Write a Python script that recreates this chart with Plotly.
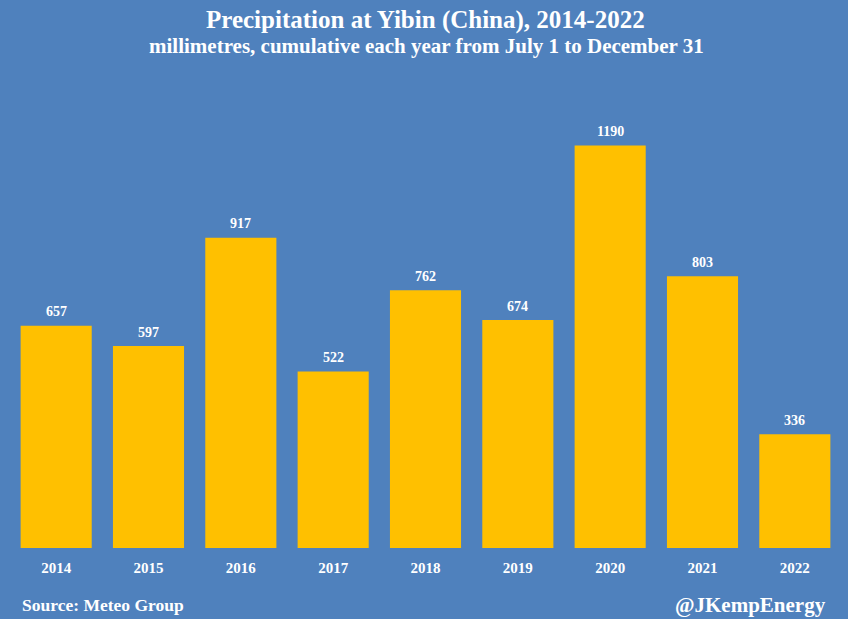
import plotly.graph_objects as go

years = ["2014", "2015", "2016", "2017", "2018", "2019", "2020", "2021", "2022"]
rain_mm = [657, 597, 917, 522, 762, 674, 1190, 803, 336]

bg = "#4F81BD"
bar_col = "#FFC000"
serif = "Liberation Serif"

fig = go.Figure()
fig.add_trace(go.Bar(x=years, y=rain_mm, marker_color=bar_col, marker_line_width=0, width=0.77))

fig.update_layout(
    width=848, height=619, autosize=False,
    paper_bgcolor=bg, plot_bgcolor=bg,
    font=dict(family=serif, color="white"),
    margin=dict(l=10, r=7, t=0, b=71),
    showlegend=False,
    xaxis=dict(type="category", range=[-0.5, 8.5], showgrid=False, zeroline=False, showline=False,
               ticks="", ticklabelstandoff=9,
               tickfont=dict(family=serif, size=15, color="white", weight="bold")),
    yaxis=dict(visible=False, range=[0, 1620], fixedrange=True),
)

# year strings read as numbers on annotations, so place labels by category index
for i, val in enumerate(rain_mm):
    fig.add_annotation(x=i, y=val, yshift=14, text=f"<b>{val}</b>", showarrow=False,
                       yanchor="middle", font=dict(family=serif, size=14, color="white"))

fig.add_annotation(text="<b>Precipitation at Yibin (China), 2014-2022</b>",
                   xref="paper", yref="paper", x=0.5, y=1, yshift=-20, yanchor="middle",
                   showarrow=False, font=dict(family=serif, size=25, color="white"))
fig.add_annotation(text="<b>millimetres, cumulative each year from July 1 to December 31</b>",
                   xref="paper", yref="paper", x=0.5, y=1, xshift=1, yshift=-46, yanchor="middle",
                   showarrow=False, font=dict(family=serif, size=21, color="white"))
fig.add_annotation(text="<b>Source: Meteo Group</b>", xref="paper", yref="paper",
                   x=0, xanchor="left", xshift=10, y=0, yshift=-57, yanchor="middle",
                   showarrow=False, font=dict(family=serif, size=17.5, color="white"))
fig.add_annotation(text="<b>@JKempEnergy</b>", xref="paper", yref="paper",
                   x=1, xanchor="right", xshift=-13, y=0, yshift=-57, yanchor="middle",
                   showarrow=False, font=dict(family=serif, size=21, color="white"))

# drop the default page margin so the figure fills the window
fig.write_html("out.html", config={"displayModeBar": False},
               post_script="document.body.style.margin='0';")
